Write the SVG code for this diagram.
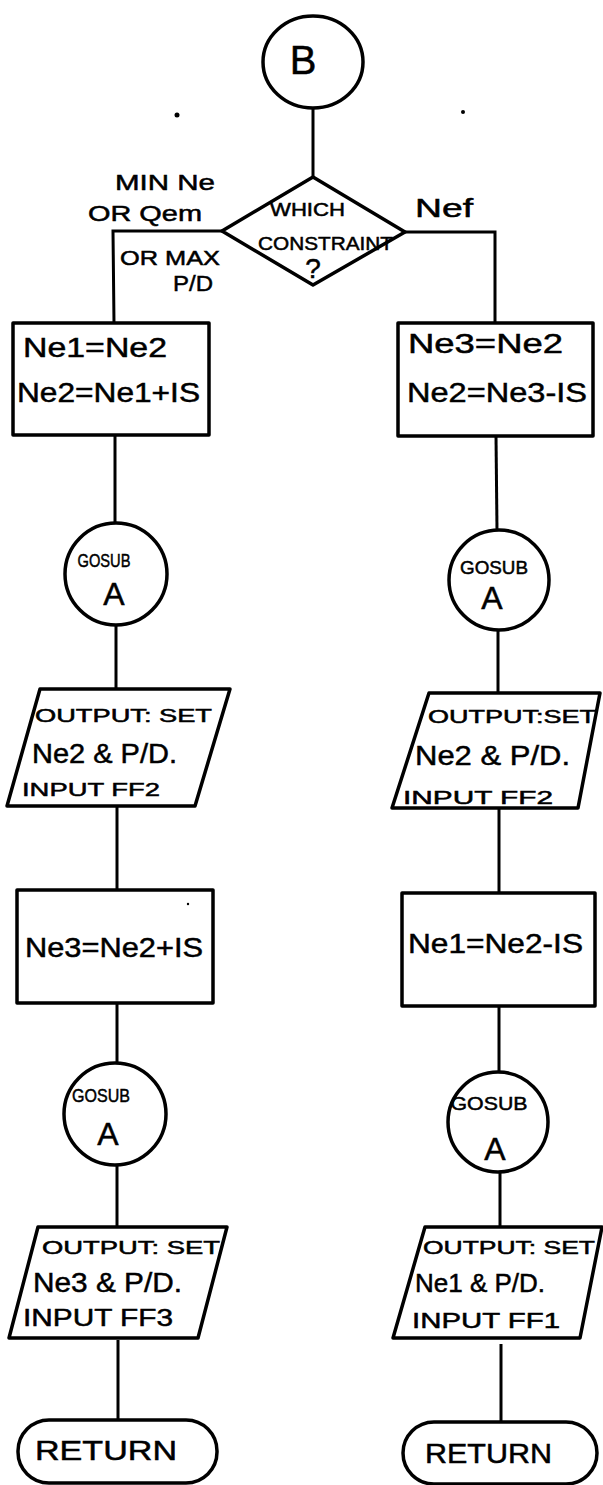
<svg xmlns="http://www.w3.org/2000/svg" width="603" height="1485" viewBox="0 0 603 1485">
<style>
.s{fill:none;stroke:#000;stroke-width:3.5;stroke-linejoin:round}
.c{fill:none;stroke:#000;stroke-width:3}
text{font-family:"Liberation Sans","DejaVu Sans",sans-serif;fill:#000;stroke:#000;stroke-width:0.5}
.big{font-size:28px}
.sm{font-size:19px}
</style>
<rect width="603" height="1485" fill="#fff"/>
<g id="connectors">
<line class="c" x1="313" y1="108" x2="313" y2="177"/>
<polyline class="c" points="222,231 113,231 114,323"/>
<polyline class="c" points="405,232 495,232 495,323"/>
<line class="c" x1="115" y1="435" x2="115" y2="522"/>
<line class="c" x1="116" y1="625" x2="116" y2="689"/>
<line class="c" x1="117" y1="806" x2="117" y2="890"/>
<line class="c" x1="117" y1="1003" x2="117" y2="1063"/>
<line class="c" x1="117" y1="1165" x2="117" y2="1227"/>
<line class="c" x1="118" y1="1340" x2="118" y2="1420"/>
<line class="c" x1="496" y1="436" x2="497" y2="530"/>
<line class="c" x1="498" y1="630" x2="498" y2="693"/>
<line class="c" x1="499" y1="808" x2="499" y2="893"/>
<line class="c" x1="499" y1="1006" x2="499" y2="1072"/>
<line class="c" x1="500" y1="1172" x2="500" y2="1227"/>
<line class="c" x1="501" y1="1344" x2="501" y2="1422"/>
</g>
<g id="noise">
<circle cx="177" cy="115" r="2.5"/>
<circle cx="463" cy="112" r="2"/>
<circle cx="188" cy="904" r="1.2"/>
</g>
<g id="start-B">
<ellipse class="s" cx="313" cy="62" rx="50" ry="46"/>
<text x="303" y="74" font-size="40" text-anchor="middle">B</text>
</g>
<g id="decision">
<polygon class="s" points="313,177 405,232 313,285 222,231"/>
<text x="270" y="216" font-size="18" textLength="75" lengthAdjust="spacingAndGlyphs">WHICH</text>
<text x="258" y="250" font-size="19" textLength="135" lengthAdjust="spacingAndGlyphs">CONSTRAINT</text>
<text x="313" y="278" font-size="28" text-anchor="middle">?</text>
</g>
<g id="labels">
<text x="115" y="190" font-size="22" textLength="100" lengthAdjust="spacingAndGlyphs">MIN Ne</text>
<text x="88" y="221" font-size="22" textLength="114" lengthAdjust="spacingAndGlyphs">OR Qem</text>
<text x="120" y="265" font-size="20" textLength="100" lengthAdjust="spacingAndGlyphs">OR MAX</text>
<text x="173" y="291" font-size="22" textLength="40" lengthAdjust="spacingAndGlyphs">P/D</text>
<text x="415" y="217" font-size="26" textLength="58" lengthAdjust="spacingAndGlyphs">Nef</text>
</g>
<g id="L1">
<rect class="s" x="13" y="323" width="196" height="112"/>
<text x="23" y="357" class="big" textLength="144" lengthAdjust="spacingAndGlyphs">Ne1=Ne2</text>
<text x="17" y="402" class="big" textLength="183" lengthAdjust="spacingAndGlyphs">Ne2=Ne1+IS</text>
</g>
<g id="R1">
<rect class="s" x="398" y="323" width="195" height="113"/>
<text x="408" y="353" class="big" textLength="155" lengthAdjust="spacingAndGlyphs">Ne3=Ne2</text>
<text x="407" y="402" class="big" textLength="180" lengthAdjust="spacingAndGlyphs">Ne2=Ne3-IS</text>
</g>
<g id="L2">
<circle class="s" cx="116" cy="574" r="51"/>
<text x="104" y="567" class="sm" text-anchor="middle" textLength="53" lengthAdjust="spacingAndGlyphs">GOSUB</text>
<text x="114" y="605" font-size="32" text-anchor="middle">A</text>
</g>
<g id="R2">
<circle class="s" cx="499" cy="580" r="50"/>
<text x="494" y="574" class="sm" text-anchor="middle" textLength="68" lengthAdjust="spacingAndGlyphs">GOSUB</text>
<text x="492" y="609" font-size="32" text-anchor="middle">A</text>
</g>
<g id="L3">
<polygon class="s" points="40,689 230,689 195,806 7,806"/>
<text x="35" y="722" font-size="18" textLength="177" lengthAdjust="spacingAndGlyphs">OUTPUT: SET</text>
<text x="32" y="763" class="big" textLength="145" lengthAdjust="spacingAndGlyphs">Ne2 &amp; P/D.</text>
<text x="22" y="796" font-size="19" textLength="138" lengthAdjust="spacingAndGlyphs">INPUT FF2</text>
</g>
<g id="R3">
<polygon class="s" points="429,693 600,693 578,808 392,808"/>
<text x="428" y="723" font-size="18" textLength="168" lengthAdjust="spacingAndGlyphs">OUTPUT:SET</text>
<text x="415" y="765" class="big" textLength="155" lengthAdjust="spacingAndGlyphs">Ne2 &amp; P/D.</text>
<text x="403" y="804" font-size="19" textLength="150" lengthAdjust="spacingAndGlyphs">INPUT FF2</text>
</g>
<g id="L4">
<rect class="s" x="17" y="890" width="196" height="113"/>
<text x="25" y="957" class="big" textLength="178" lengthAdjust="spacingAndGlyphs">Ne3=Ne2+IS</text>
</g>
<g id="R4">
<rect class="s" x="402" y="893" width="193" height="113"/>
<text x="408" y="953" class="big" textLength="175" lengthAdjust="spacingAndGlyphs">Ne1=Ne2-IS</text>
</g>
<g id="L5">
<circle class="s" cx="115" cy="1114" r="51"/>
<text x="101" y="1102" class="sm" text-anchor="middle" textLength="58" lengthAdjust="spacingAndGlyphs">GOSUB</text>
<text x="108" y="1145" font-size="32" text-anchor="middle">A</text>
</g>
<g id="R5">
<circle class="s" cx="498" cy="1122" r="50"/>
<text x="489" y="1110" class="sm" text-anchor="middle" textLength="77" lengthAdjust="spacingAndGlyphs">GOSUB</text>
<text x="495" y="1160" font-size="32" text-anchor="middle">A</text>
</g>
<g id="L6">
<polygon class="s" points="38,1227 227,1227 198,1338 9,1338"/>
<text x="42" y="1254" font-size="18" textLength="178" lengthAdjust="spacingAndGlyphs">OUTPUT: SET</text>
<text x="33" y="1292" class="big" textLength="149" lengthAdjust="spacingAndGlyphs">Ne3 &amp; P/D.</text>
<text x="23" y="1326" font-size="24" textLength="150" lengthAdjust="spacingAndGlyphs">INPUT FF3</text>
</g>
<g id="R6">
<polygon class="s" points="425,1227 602,1227 580,1338 393,1338"/>
<text x="423" y="1254" font-size="18" textLength="172" lengthAdjust="spacingAndGlyphs">OUTPUT: SET</text>
<text x="415" y="1292" font-size="26" textLength="130" lengthAdjust="spacingAndGlyphs">Ne1 &amp; P/D.</text>
<text x="412" y="1328" font-size="22" textLength="148" lengthAdjust="spacingAndGlyphs">INPUT FF1</text>
</g>
<g id="L7">
<rect class="s" x="18" y="1420" width="199" height="63" rx="31" ry="31"/>
<text x="35" y="1460" class="big" textLength="142" lengthAdjust="spacingAndGlyphs">RETURN</text>
</g>
<g id="R7">
<rect class="s" x="403" y="1422" width="194" height="62" rx="31" ry="31"/>
<text x="425" y="1463" class="big" textLength="127" lengthAdjust="spacingAndGlyphs">RETURN</text>
</g>
</svg>
